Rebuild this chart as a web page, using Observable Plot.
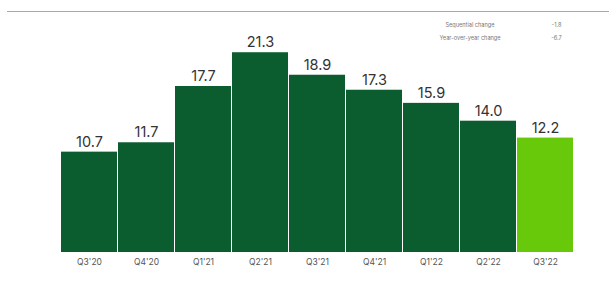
<!DOCTYPE html>
<html>
<head>
<meta charset="utf-8">
<script src="https://cdn.jsdelivr.net/npm/d3@7"></script>
<script src="https://cdn.jsdelivr.net/npm/@observablehq/plot@0.6"></script>
<style>
  html, body { margin: 0; padding: 0; background: #fff; }
  #chart svg { display: block; }
</style>
</head>
<body>
<div id="chart"></div>
<script>
const quarters = ["Q3'20", "Q4'20", "Q1'21", "Q2'21", "Q3'21", "Q4'21", "Q1'22", "Q2'22", "Q3'22"];
const values = [10.7, 11.7, 17.7, 21.3, 18.9, 17.3, 15.9, 14.0, 12.2];
const highlight = "Q3'22";
const noteLabels = ["Sequential change", "Year-over-year change"];
const noteValues = ["-1.8", "-6.7"];

const data = quarters.map((q, i) => ({quarter: q, value: values[i], current: q === highlight}));

const W = 616, H = 282;
const chart = Plot.plot({
  width: W,
  height: H,
  marginLeft: 57,
  marginRight: 39,
  marginTop: 30,
  marginBottom: 30,
  style: {fontFamily: "Inter, 'Noto Sans', sans-serif", background: "#fff"},
  x: {domain: quarters, paddingInner: 0.02, paddingOuter: 0, label: null},
  y: {domain: [0, 23.67], axis: null},
  color: {domain: [false, true], range: ["#0b5d30", "#67c90a"]},
  marks: [
    Plot.barY(data, {x: "quarter", y: "value", fill: "current"}),
    Plot.text(data, {x: "quarter", y: "value", text: d => d.value.toFixed(1), dy: -10, fontSize: 14.5, fill: "#333"}),
    Plot.axisX({tickSize: 0, tickPadding: 6, fontSize: 8.5, fill: "#555", label: null})
  ]
});

const svg = d3.select(chart);
svg.append("line").attr("x1", 7).attr("x2", 609).attr("y1", 11.5).attr("y2", 11.5)
  .attr("stroke", "#a8a8a8").attr("stroke-width", 1);
const notes = svg.append("g").attr("font-size", 5.6).attr("fill", "#777").attr("dominant-baseline", "middle");
noteLabels.forEach((t, i) => {
  notes.append("text").attr("x", 470).attr("y", 25 + i * 13).text(t);
  notes.append("text").attr("x", 556.5).attr("y", 25 + i * 13).text(noteValues[i]);
});

document.getElementById("chart").append(chart);
</script>
</body>
</html>
